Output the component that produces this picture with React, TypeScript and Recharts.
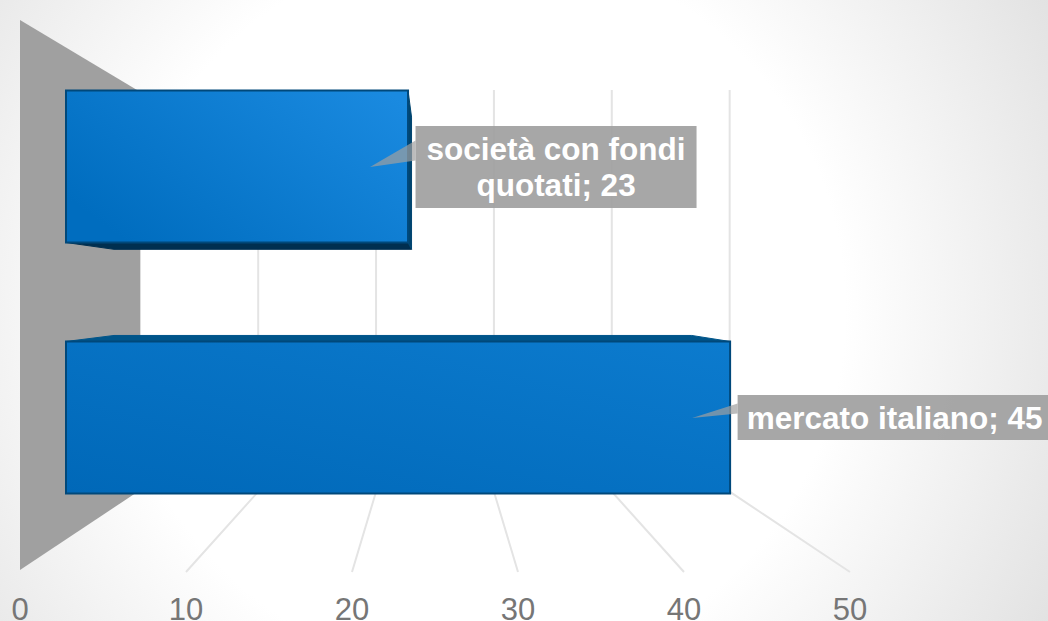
import React from "react";
import { BarChart, Bar, XAxis, YAxis, LabelList, CartesianGrid } from "recharts";

const categories = ["società con fondi quotati", "mercato italiano"];
const values = [23, 45];
const labelLines = [["società con fondi", "quotati; 23"], ["mercato italiano; 45"]];
const axisTicks = [0, 10, 20, 30, 40, 50];
const rows = categories.map((name, i) => ({ name, value: values[i], lines: labelLines[i] }));

const W = 1048, H = 621;
const LEFT = 20;
const VP = { x: 435, y: 295 };
const BAR_DEPTH = 0.87;
const FONT = "'Liberation Sans', Arial, sans-serif";

const back = (px: number, py: number, f: number) => [VP.x + (px - VP.x) * f, VP.y + (py - VP.y) * f];
const pts = (a: number[][]) => a.map((p) => p.join(",")).join(" ");
const frontEnd = (x: number, w: number) => x + 46 + w * 0.903 - w * w * 0.0000187;

function GridLine(props: any) {
  const x = props.x1;
  const floorY = 572;
  const [bx, by] = back(x, floorY, 0.71);
  if (x <= LEFT) {
    return <polygon points={pts([[x, 20], [bx, 92], [bx, 490], [x, 570]])} fill="#a0a0a0" />;
  }
  return <polyline points={pts([[x, floorY], [bx, by], [bx, 90]])} fill="none" stroke="#e4e4e4" strokeWidth={2} />;
}

function Tick(props: any) {
  const { x, payload } = props;
  return (
    <text x={x} y={620} textAnchor="middle" fontFamily={FONT} fontSize={31} fill="#767676">
      {payload.value}
    </text>
  );
}

function Bar3D(props: any) {
  const { x, y, width, height, index } = props;
  const l = x + 46;
  const r = frontEnd(x, width);
  const t = y;
  const b = y + height;
  const bl = back(l, b, BAR_DEPTH), br = back(r, b, BAR_DEPTH);
  const tl = back(l, t, BAR_DEPTH), tr = back(r, t, BAR_DEPTH);
  return (
    <g>
      {b < VP.y && <polygon points={pts([[l, b], bl, br, [r, b]])} fill="#002f50" stroke="#002f50" />}
      {t > VP.y && <polygon points={pts([[l, t], tl, tr, [r, t]])} fill="#00558a" stroke="#00558a" />}
      {r < VP.x && <polygon points={pts([[r, t], tr, br, [r, b]])} fill="#004570" stroke="#004570" />}
      <rect x={l} y={t} width={r - l} height={height} fill={`url(#barFace${index})`} stroke="#00487a" strokeWidth={2} />
    </g>
  );
}

function DataLabel(props: any) {
  const { viewBox, index } = props;
  const { x, y, width, height } = viewBox;
  const lines = labelLines[index];
  const single = lines.length === 1;
  const r = frontEnd(x, width);
  const cy = y + height / 2;
  const boxX = r + 7.5;
  const boxTop = single ? cy - 22.5 : cy - 40.5;
  const boxH = single ? 45 : 82;
  const boxW = single ? 312 : 281;
  const tipX = boxX - 45.5;
  const [a, b] = single ? [cy - 14, cy - 4] : [cy - 26, cy - 6];
  const textX = single ? boxX + 157 : boxX + boxW / 2;
  const baselines = single ? [cy + 11] : [cy - 6.2, cy + 29.5];
  return (
    <g>
      <polygon points={pts([[boxX, a], [boxX, b], [tipX, cy + 0.5]])} fill="#a0a0a0" fillOpacity={0.7} />
      <rect x={boxX} y={boxTop} width={boxW} height={boxH} fill="#a0a0a0" fillOpacity={0.92} />
      {lines.map((ln: string, i: number) => (
        <text
          key={ln}
          x={textX}
          y={baselines[i]}
          textAnchor="middle"
          fontFamily={FONT}
          fontWeight="bold"
          fontSize={31.5}
          fill="#ffffff"
        >
          {ln}
        </text>
      ))}
    </g>
  );
}

export default function App() {
  return (
    <div
      style={{
        position: "absolute",
        left: 0,
        top: 0,
        width: W,
        height: H,
        overflow: "hidden",
        background: "radial-gradient(circle at 480px 310px, #ffffff 0px, #ffffff 365px, #e2e2e2 650px)",
      }}
    >
      <BarChart
        width={W}
        height={H}
        data={rows}
        layout="vertical"
        margin={{ top: 40.5, right: 198, bottom: 0, left: LEFT }}
      >
        <defs>
          <linearGradient id="barFace0" x1="0" y1="0.7" x2="1" y2="0.1">
            <stop offset="0" stopColor="#006dbf" />
            <stop offset="1" stopColor="#1a8ae0" />
          </linearGradient>
          <linearGradient id="barFace1" x1="0" y1="1" x2="1" y2="0">
            <stop offset="0" stopColor="#0068b8" />
            <stop offset="1" stopColor="#0c7bce" />
          </linearGradient>
        </defs>
        <CartesianGrid horizontal={false} vertical={<GridLine />} syncWithTicks />
        <XAxis
          type="number"
          domain={[0, 50]}
          ticks={axisTicks}
          interval={0}
          height={78.5}
          axisLine={false}
          tickLine={false}
          tick={<Tick />}
        />
        <YAxis type="category" dataKey="name" hide width={0} />
        <Bar dataKey="value" barSize={152} isAnimationActive={false} shape={<Bar3D />}>
          <LabelList dataKey="value" content={<DataLabel />} />
        </Bar>
      </BarChart>
    </div>
  );
}
